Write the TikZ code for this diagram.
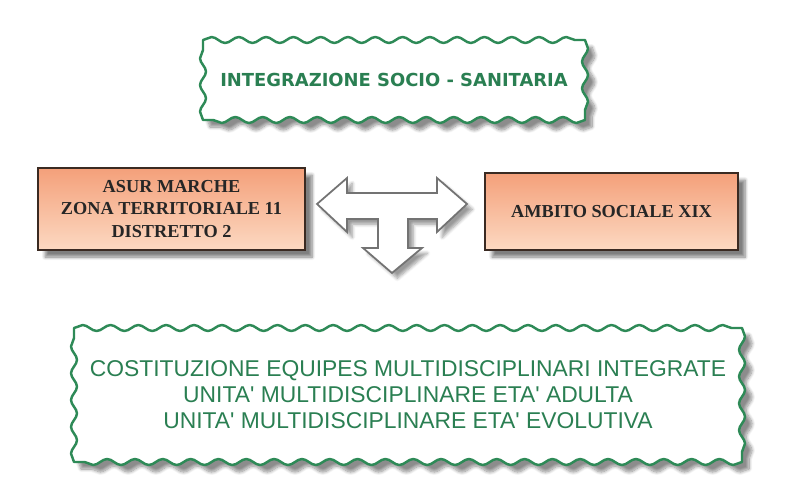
\documentclass[tikz,border=0pt]{standalone}
\usepackage{fontspec}
\setmainfont{Liberation Serif}
\newfontfamily\boxsans{DejaVu Sans}
\newfontfamily\thinsans{Liberation Sans}
\usetikzlibrary{decorations.pathmorphing,shadows.blur}
\definecolor{wavegreen}{HTML}{2E8A57}
\definecolor{textgreen}{HTML}{2A7F52}
\definecolor{orangetop}{HTML}{F4A07A}
\definecolor{orangebot}{HTML}{FCD9C2}
\definecolor{boxedge}{HTML}{3A2A22}
\tikzset{
  waveline/.style={draw=wavegreen, line width=1.4pt, fill=white, line join=round,
    blur shadow={shadow xshift=4pt, shadow yshift=-4pt, shadow blur steps=10, shadow opacity=45}},
  wavetext/.style={inner sep=0pt, text=textgreen, align=center},
  orangebox/.style={draw=boxedge, line width=0.9pt, top color=orangetop, bottom color=orangebot,
    align=center, font=\bfseries\fontsize{10.4}{13}\selectfont, text=black!85,
    blur shadow={shadow xshift=4pt, shadow yshift=-4pt, shadow blur steps=8, shadow opacity=50}},
}
\begin{document}
\begin{tikzpicture}[x=0.02cm,y=-0.02cm]
\useasboundingbox (0,0) rectangle (800,500);
% top wavy box
\coordinate (tnw) at (203,40);
\coordinate (tne) at (585,40);
\coordinate (tse) at (585,120);
\coordinate (tsw) at (203,120);
\path[waveline] (tnw)
  decorate[decoration={snake, segment length=27.29*0.02cm, amplitude=1.7pt}] {-- (tne)}
  decorate[decoration={snake, segment length=26.67*0.02cm, amplitude=1.7pt}] {-- (tse)}
  decorate[decoration={snake, segment length=27.29*0.02cm, amplitude=1.7pt}] {-- (tsw)}
  decorate[decoration={snake, segment length=26.67*0.02cm, amplitude=1.7pt}] {-- (tnw)}
  -- cycle;
\node[wavetext, font=\boxsans\bfseries\fontsize{10.2}{12}\selectfont] (top) at (394,80)
  {INTEGRAZIONE SOCIO - SANITARIA};
% orange boxes
\node[orangebox, minimum width=267*0.02cm, minimum height=82*0.02cm] (asur) at (171.5,209)
  {ASUR MARCHE\\ZONA TERRITORIALE 11\\DISTRETTO 2};
\node[orangebox, minimum width=253*0.02cm, minimum height=77*0.02cm] (ambito) at (611.5,211.5)
  {AMBITO SOCIALE XIX};
% T arrow
\draw[draw=black!55, line width=1pt, fill=white,
  blur shadow={shadow xshift=3pt, shadow yshift=-3pt, shadow blur steps=6, shadow opacity=40}]
  (317,204) -- (347,178) -- (347,193) -- (437,193) -- (437,178) -- (467,204)
  -- (437,232) -- (437,219) -- (408,219) -- (408,248) -- (422,248) -- (392,273)
  -- (363,248) -- (378,248) -- (378,219) -- (347,219) -- (347,232) -- cycle;
% bottom wavy box
\coordinate (bnw) at (74,328);
\coordinate (bne) at (742,328);
\coordinate (bse) at (742,462);
\coordinate (bsw) at (74,462);
\path[waveline] (bnw)
  decorate[decoration={snake, segment length=27.83*0.02cm, amplitude=1.7pt}] {-- (bne)}
  decorate[decoration={snake, segment length=26.8*0.02cm, amplitude=1.7pt}] {-- (bse)}
  decorate[decoration={snake, segment length=27.83*0.02cm, amplitude=1.7pt}] {-- (bsw)}
  decorate[decoration={snake, segment length=26.8*0.02cm, amplitude=1.7pt}] {-- (bnw)}
  -- cycle;
\node[wavetext, font=\thinsans\fontsize{13}{14.8}\selectfont] (bottom) at (408,395)
  {COSTITUZIONE EQUIPES MULTIDISCIPLINARI INTEGRATE\\
   UNITA' MULTIDISCIPLINARE ETA' ADULTA\\
   UNITA' MULTIDISCIPLINARE ETA' EVOLUTIVA};
\end{tikzpicture}
\end{document}
